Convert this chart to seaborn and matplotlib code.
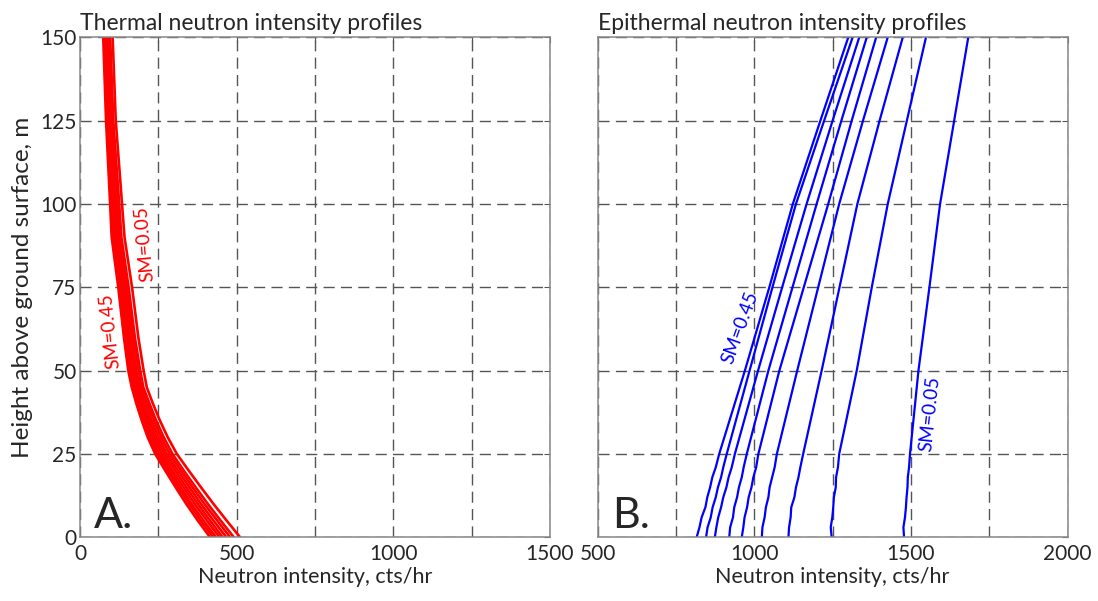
import numpy as np
import pandas as pd
import seaborn as sns
import matplotlib.pyplot as plt
from matplotlib.ticker import MultipleLocator, FuncFormatter

# soil moisture values of the profiles
sm_values = [0.05, 0.10, 0.15, 0.20, 0.25, 0.30, 0.35, 0.40, 0.45]

# Thermal neutron profiles (panel A), heights in m, intensity in cts/hr
h_thermal = [0, 5, 10, 15, 20, 25, 30, 35, 40, 45, 50, 60, 75, 90, 100, 125, 150]
th_05 = [511, 468, 426, 386, 347, 309, 280, 255, 233, 213, 203, 186, 166, 142, 134, 114, 104]
th_10 = [491, 449, 408, 369, 331, 295, 267, 243, 222, 202, 192, 175, 155, 132, 125, 106, 96]
th_15 = [479, 438, 397, 359, 322, 286, 259, 236, 216, 197, 187, 171, 151, 128, 121, 104, 94]
th_20 = [467, 426, 386, 349, 313, 277, 251, 228, 209, 191, 180, 165, 146, 123, 117, 100, 90]
th_25 = [455, 415, 376, 339, 304, 269, 243, 221, 202, 185, 175, 159, 140, 118, 112, 96, 87]
th_30 = [445, 405, 366, 330, 295, 261, 236, 215, 196, 180, 169, 154, 136, 114, 108, 93, 83]
th_35 = [434, 394, 356, 321, 287, 254, 229, 209, 191, 175, 164, 149, 131, 109, 104, 89, 80]
th_40 = [425, 385, 348, 313, 280, 247, 222, 203, 185, 170, 159, 145, 126, 105, 100, 86, 77]
th_45 = [415, 376, 339, 305, 272, 240, 216, 197, 180, 165, 154, 140, 122, 101, 96, 83, 74]

# Epithermal neutron profiles (panel B)
h_epi = [0, 3, 6, 9, 12, 15, 18, 21, 25, 50, 75, 100, 125, 150]
ep_05 = [1478, 1476, 1481, 1484, 1486, 1489, 1490, 1494, 1497, 1524, 1559, 1593, 1638, 1683]
ep_10 = [1247, 1244, 1249, 1252, 1254, 1260, 1261, 1267, 1271, 1327, 1375, 1426, 1487, 1548]
ep_15 = [1109, 1111, 1116, 1118, 1128, 1133, 1141, 1147, 1156, 1215, 1272, 1329, 1400, 1474]
ep_20 = [1024, 1026, 1033, 1037, 1045, 1049, 1057, 1065, 1072, 1137, 1204, 1271, 1347, 1426]
ep_25 = [960, 965, 969, 977, 982, 991, 997, 1006, 1013, 1080, 1158, 1236, 1311, 1389]
ep_30 = [920, 923, 932, 936, 945, 951, 960, 966, 976, 1045, 1122, 1199, 1278, 1359]
ep_35 = [874, 879, 885, 894, 901, 911, 918, 928, 938, 1012, 1089, 1167, 1250, 1335]
ep_40 = [846, 851, 861, 867, 877, 884, 894, 901, 912, 985, 1058, 1133, 1223, 1314]
ep_45 = [816, 825, 832, 844, 850, 859, 866, 877, 888, 970, 1048, 1123, 1211, 1300]

thermal = [th_05, th_10, th_15, th_20, th_25, th_30, th_35, th_40, th_45]
epi = [ep_05, ep_10, ep_15, ep_20, ep_25, ep_30, ep_35, ep_40, ep_45]

rows = []
for sm, xs in zip(sm_values, thermal):
    for h, x in zip(h_thermal, xs):
        rows.append(("thermal", sm, h, x))
for sm, xs in zip(sm_values, epi):
    for h, x in zip(h_epi, xs):
        rows.append(("epithermal", sm, h, x))
df = pd.DataFrame(rows, columns=["kind", "SM", "height", "intensity"])

sns.set_style("white")
plt.rcParams["font.family"] = ["Lato", "DejaVu Sans"]

fig = plt.figure(figsize=(10.98, 6.01), dpi=100)
ax1 = fig.add_axes([0.0729, 0.106, 0.428, 0.832])
ax2 = fig.add_axes([0.5443, 0.106, 0.428, 0.832])

sns.lineplot(data=df[df["kind"] == "thermal"], x="intensity", y="height",
             hue="SM", palette=["#ff0000"] * 9, sort=False, estimator=None,
             legend=False, linewidth=1.9, ax=ax1)
sns.lineplot(data=df[df["kind"] == "epithermal"], x="intensity", y="height",
             hue="SM", palette=["#0000ff"] * 9, sort=False, estimator=None,
             legend=False, linewidth=1.6, ax=ax2)


def fmt500(v, pos):
    return "%d" % v if abs(v % 500) < 1e-6 else ""


for ax, xlim in ((ax1, (0, 1500)), (ax2, (500, 2000))):
    ax.set_xlim(*xlim)
    ax.set_ylim(0, 150)
    ax.xaxis.set_major_locator(MultipleLocator(250))
    ax.xaxis.set_major_formatter(FuncFormatter(fmt500))
    ax.yaxis.set_major_locator(MultipleLocator(25))
    ax.grid(True, linestyle=(0, (8, 4.5)), color="#555555", linewidth=1.0)
    ax.tick_params(direction="in", length=4, width=0.8, color="#555555",
                   labelsize=15, top=True, right=True)
    ax.tick_params(axis="x", pad=5)
    ax.tick_params(axis="y", pad=2.5)
    for s in ax.spines.values():
        s.set_color("#888888")
        s.set_linewidth(1.1)
    ax.set_xlabel("Neutron intensity, cts/hr", fontsize=15.5, labelpad=2)

ax1.set_ylabel("Height above ground surface, m", fontsize=17.5, labelpad=5)
ax2.set_ylabel("")
ax2.tick_params(labelleft=False)

ax1.set_title("Thermal neutron intensity profiles", loc="left", fontsize=16.5, pad=5)
ax2.set_title("Epithermal neutron intensity profiles", loc="left", fontsize=16.5, pad=5)

ax1.text(0.03, 0.018, "A.", transform=ax1.transAxes, fontsize=31, va="baseline")
ax2.text(0.03, 0.018, "B.", transform=ax2.transAxes, fontsize=31, va="baseline")

ax1.text(207, 88, "SM=0.05", color="#ff0000", fontsize=13.5, rotation=95,
         ha="center", va="center")
ax1.text(96, 62, "SM=0.45", color="#ff0000", fontsize=13.5, rotation=96,
         ha="center", va="center")
ax2.text(954, 63, "SM=0.45", color="#0000ff", fontsize=13.5, rotation=70,
         ha="center", va="center")
ax2.text(1561, 37, "SM=0.05", color="#0000ff", fontsize=13.5, rotation=84,
         ha="center", va="center")

fig.savefig("out.png", dpi=100)
